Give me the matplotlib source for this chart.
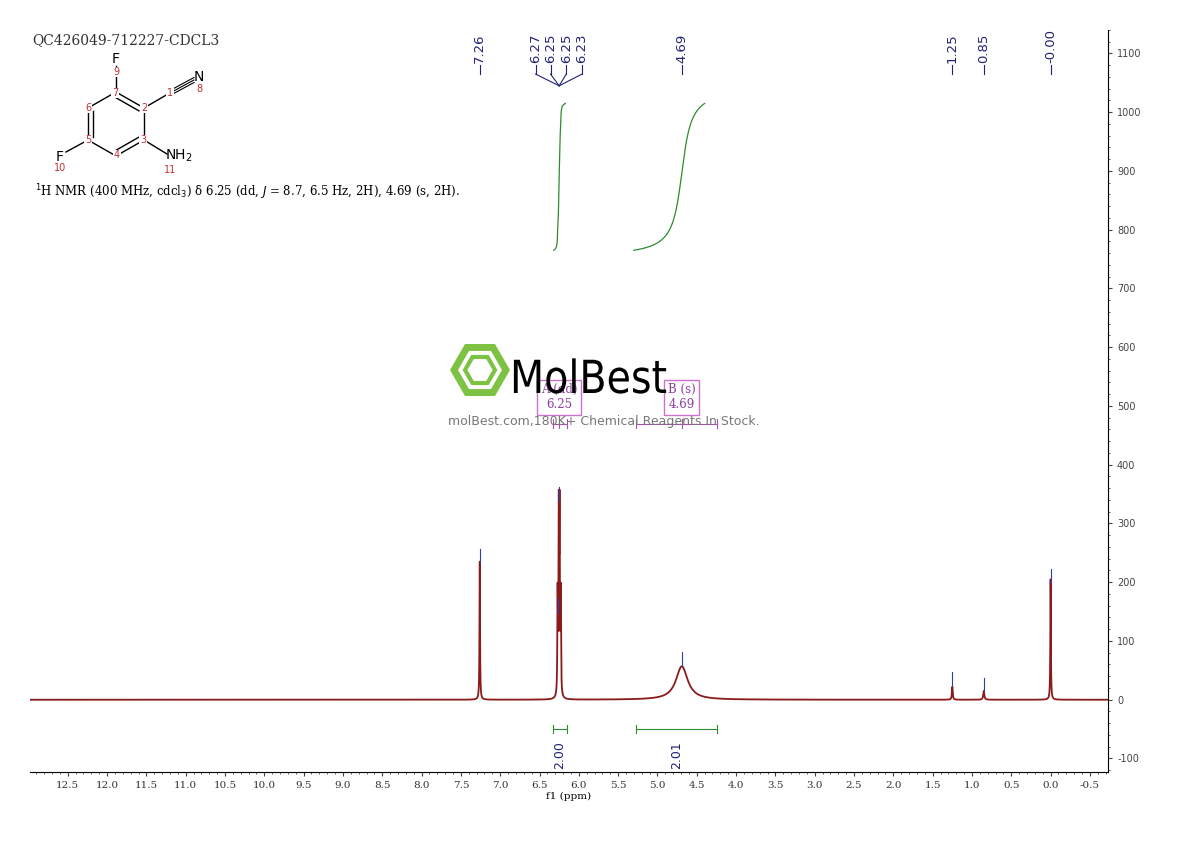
import matplotlib
matplotlib.use('Agg')
import matplotlib.pyplot as plt
import numpy as np
from matplotlib.patches import RegularPolygon, PathPatch
from matplotlib.textpath import TextPath
from matplotlib.font_manager import FontProperties
from matplotlib.transforms import Affine2D

plt.rcParams['font.family'] = ['DejaVu Sans']

# Peak list (ppm, height, half-width ppm)
peak_ppm = [7.26, 6.27, 6.255, 6.245, 6.23, 4.69, 1.25, 0.85, 0.00]
peak_h = [235, 170, 300, 300, 170, 57, 22, 15, 205]
peak_w = [0.004, 0.004, 0.004, 0.004, 0.004, 0.09, 0.006, 0.008, 0.004]

top_labels = ['7.26', '6.27', '6.25', '6.25', '6.23', '4.69', '1.25', '0.85', '-0.00']
top_label_ppm = [7.26, 6.25, 6.25, 6.25, 6.25, 4.69, 1.25, 0.85, 0.00]
label_ppm_spread = [7.26, 6.55, 6.36, 6.16, 5.96, 4.69, 1.25, 0.85, 0.00]

integ_ranges = [(6.33, 6.15), (5.27, 4.24)]
integ_values = ['2.00', '2.01']
integ_curve = [(6.32, 6.17), (5.30, 4.40)]

mark_ppm = [7.26, 6.25, 6.27, 4.69, 1.25, 0.85, 0.00]
mark_y = [245, 350, 160, 70, 35, 25, 210]

xticks = np.arange(12.5, -0.6, -0.5)
yticks = np.arange(-100, 1101, 100)

x = np.linspace(13.0, -0.75, 40000)
y = np.zeros_like(x)
for p, h, w in zip(peak_ppm, peak_h, peak_w):
    y += h * w**2 / ((x - p)**2 + w**2)

fig = plt.figure(figsize=(11.9, 8.41), dpi=100)
ax = fig.add_axes([30/1190, 69/841, 1078/1190, 742/841])
ax.plot(x, y, color='#8B1A1A', lw=1.3)
ax.set_xlim(12.98, -0.73)
ax.set_ylim(-123, 1140)
for s in ['top', 'left']:
    ax.spines[s].set_visible(False)
ax.yaxis.tick_right()
ax.set_yticks(yticks)
ax.set_yticklabels([str(v) for v in yticks], fontsize=7, color='#444')
ax.set_xticks(xticks)
ax.set_xticklabels(['%.1f' % v for v in xticks], fontsize=7.5, family='serif', color='#333')
ax.yaxis.set_minor_locator(matplotlib.ticker.MultipleLocator(20))
ax.xaxis.set_minor_locator(matplotlib.ticker.MultipleLocator(0.1))
ax.tick_params(which='both', direction='out', length=3, color='#444')
ax.tick_params(which='minor', length=1.5)
ax.set_xlabel('f1 (ppm)', fontsize=7.5, family='serif', labelpad=1)

# peak markers
for p, yy in zip(mark_ppm, mark_y):
    ax.plot([p, p], [yy - 12, yy + 12], color='#3040A0', lw=0.8)

# integrals
for (a, b), lab in zip(integ_ranges, integ_values):
    ax.plot([a, b], [-50, -50], color='#2E8B2E', lw=0.8)
    ax.plot([a, a], [-43, -57], color='#2E8B2E', lw=0.8)
    ax.plot([b, b], [-43, -57], color='#2E8B2E', lw=0.8)
    ax.text((a + b) / 2, -70, lab, rotation=90, ha='center', va='top', fontsize=9, color='#222277')
for (a, b) in integ_curve:
    m = (x <= a) & (x >= b)
    c = np.cumsum(y[m])
    c = c / c[-1]
    ax.plot(x[m], 765 + 250 * c, color='#2E8B2E', lw=0.9)

# multiplet boxes
for txt, cx in [('A (dd)\n6.25', 6.25), ('B (s)\n4.69', 4.69)]:
    ax.text(cx, 515, txt, ha='center', va='center', fontsize=8.5, family='serif', color='#9040A0',
            bbox=dict(boxstyle='square,pad=0.3', fc='none', ec='#D070D0', lw=1))
ax.plot([6.33, 6.15], [470, 470], color='#B050B0', lw=0.8)
ax.plot([5.27, 4.24], [470, 470], color='#B050B0', lw=0.8)
for p in [6.33, 6.15, 6.25, 5.27, 4.24, 4.69]:
    ax.plot([p, p], [462, 478], color='#B050B0', lw=0.8)

# top peak labels
for lab, p, ps in zip(top_labels, top_label_ppm, label_ppm_spread):
    ax.plot([ps, ps], [1065, 1080], color='#222277', lw=0.8, clip_on=False)
    if ps != p:
        ax.plot([ps, p], [1065, 1045], color='#222277', lw=0.8, clip_on=False)
    ax.text(ps, 1083, lab, rotation=90, ha='center', va='bottom', fontsize=9.5, color='#222277', clip_on=False)

# watermark
wax = fig.add_axes([0, 0, 1, 1], facecolor='none')
wax.set_xlim(0, 1190); wax.set_ylim(841, 0); wax.axis('off')
wax.add_patch(RegularPolygon((480, 370), 6, radius=26, orientation=np.pi / 2, fc='none', ec='#7DC242', lw=5))
wax.add_patch(RegularPolygon((480, 370), 6, radius=15, orientation=np.pi / 2, fc='none', ec='#7DC242', lw=3))
tp = TextPath((0, 0), 'MolBest', size=60, prop=FontProperties(family='DejaVu Sans'))
tp = Affine2D().scale(0.66, -0.76).translate(510, 393).transform_path(tp)
wax.add_patch(PathPatch(tp, fc='black', ec='none'))
wax.text(448, 421, 'molBest.com,180K+ Chemical Reagents In Stock.', fontsize=9, color='#777', va='center')

# header
fig.text(32/1190, 1 - 40/841, 'QC426049-712227-CDCL3', fontsize=10, family='serif', color='#333', va='center')
fig.text(35/1190, 1 - 192/841, r'$^1$H NMR (400 MHz, cdcl$_3$) δ 6.25 (dd, $J$ = 8.7, 6.5 Hz, 2H), 4.69 (s, 2H).',
         fontsize=8.5, family='serif', va='center')

# structure sketch in pixel coords
ring = [(116, 92), (144, 108), (144, 140), (116, 156), (88, 140), (88, 108)]
for i in range(6):
    (x1, y1), (x2, y2) = ring[i], ring[(i + 1) % 6]
    wax.plot([x1, x2], [y1, y2], color='black', lw=1)
for i in [0, 2, 4]:
    (x1, y1), (x2, y2) = ring[i], ring[(i + 1) % 6]
    cx, cy = 116, 124
    f = 0.18
    wax.plot([x1 + (cx - x1) * f, x2 + (cx - x2) * f], [y1 + (cy - y1) * f, y2 + (cy - y2) * f], color='black', lw=1)
wax.plot([116, 116], [92, 66], color='black', lw=1)
wax.plot([144, 168], [108, 94], color='black', lw=1)
for o in [-2.5, 0, 2.5]:
    wax.plot([170, 194], [93 + o, 80 + o], color='black', lw=0.8)
wax.plot([144, 167], [140, 154], color='black', lw=1)
wax.plot([88, 66], [140, 152], color='black', lw=1)
wax.text(116, 59, 'F', ha='center', va='center', fontsize=10)
wax.text(194, 77, 'N', ha='left', va='center', fontsize=10)
wax.text(165, 156, 'NH$_2$', ha='left', va='center', fontsize=10)
wax.text(60, 157, 'F', ha='center', va='center', fontsize=10)
for t, px, py in [('9', 116, 72), ('8', 199, 89), ('7', 115, 93), ('1', 170, 93), ('2', 144, 108),
                  ('6', 88, 108), ('3', 143, 140), ('5', 88, 140), ('4', 117, 155), ('10', 60, 168), ('11', 170, 170)]:
    wax.text(px, py, t, ha='center', va='center', fontsize=7, color='#C03030',
             bbox=dict(boxstyle='square,pad=0.05', fc='white', ec='none'))

fig.savefig('out.png', dpi=100, facecolor='white')
